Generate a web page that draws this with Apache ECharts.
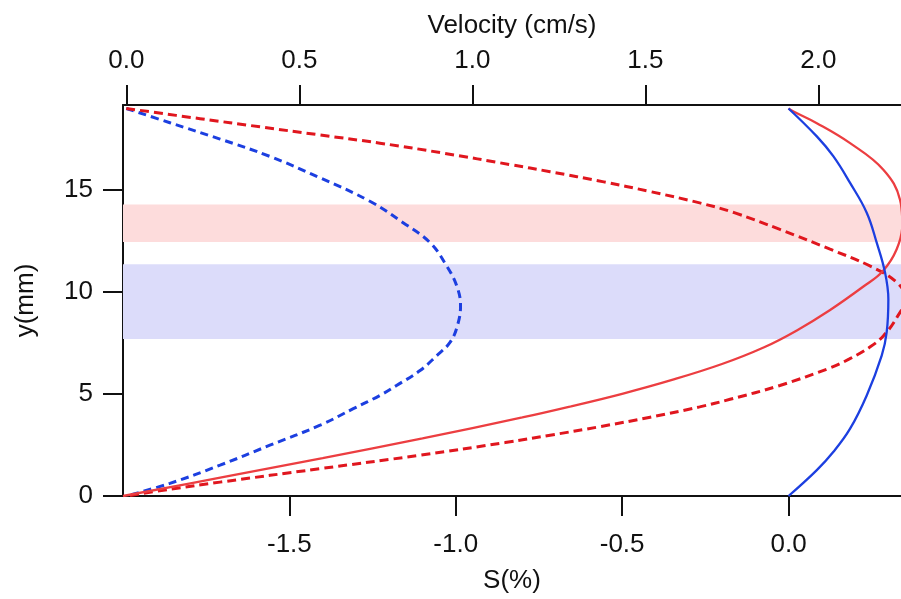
<!DOCTYPE html>
<html>
<head>
<meta charset="utf-8">
<script src="https://cdn.jsdelivr.net/npm/echarts@6/dist/echarts.min.js"></script>
<style>
  html, body { margin: 0; padding: 0; background: #fff; }
  #chart { width: 901px; height: 599px; }
</style>
</head>
<body>
<div id="chart"></div>
<script>
// Channel height positions (mm) and profile values along each curve.
const blueVelY = [19.0, 18.3, 17.5, 16.65, 15.6, 14.45, 13.4, 12.42, 11.28, 10.3, 9.33, 8.35, 7.54, 6.88, 6.15, 5.42, 4.93, 4.28, 3.47, 2.49, 1.51, 0.62, 0];
const blueVel  = [0, 0.126, 0.271, 0.415, 0.56, 0.704, 0.80, 0.878, 0.926, 0.955, 0.966, 0.957, 0.936, 0.897, 0.849, 0.781, 0.733, 0.656, 0.56, 0.415, 0.271, 0.126, 0];

const redVelY  = [19.0, 18.5, 18.1, 17.7, 17.3, 16.8, 16.25, 15.9, 15.4, 14.94, 14.37, 13.89, 13.07, 12.1, 11.28, 10.47, 9.7,
                  8.75, 7.85, 7.3, 6.72, 6.28, 5.42, 4.74, 4.37, 3.86, 3.4, 2.98, 2.62, 2.0, 1.34, 0.68, 0.33, 0];
const redVel   = [0, 0.213, 0.386, 0.56, 0.733, 0.92, 1.109, 1.225, 1.38, 1.51, 1.657, 1.757, 1.889, 2.034, 2.149, 2.227, 2.252,
                  2.227, 2.188, 2.149, 2.09, 2.034, 1.889, 1.745, 1.657, 1.514, 1.369, 1.225, 1.095, 0.849, 0.56, 0.271, 0.126, 0];

const redSY    = [0, 0.92, 1.86, 2.83, 3.85, 4.41, 5.01, 5.69, 6.47, 7.28, 8.12, 9.12, 10.27, 11.02, 12.1, 13.3, 14.53, 16.0, 17.3, 18.28, 18.85, 19.0];
const redS     = [-2.0, -1.7, -1.4, -1.1, -0.8, -0.65, -0.5, -0.35, -0.2, -0.075, 0.025, 0.125, 0.225, 0.283, 0.325, 0.342, 0.335, 0.285, 0.185, 0.085, 0.015, 0];

const blueSY   = [0, 1.27, 2.17, 3.3, 4.93, 6.88, 8.03, 9.65, 10.96, 12.42, 13.89, 15.35, 16.65, 17.63, 19.0];
const blueS    = [0, 0.085, 0.135, 0.185, 0.235, 0.28, 0.295, 0.30, 0.29, 0.265, 0.235, 0.185, 0.135, 0.085, 0];

// Shaded layers (mm)
const redBand  = [12.45, 14.29];
const blueBand = [7.70, 11.36];

// Tick labels
const sTicks = [-1.5, -1.0, -0.5, 0.0];
const vTicks = [0.0, 0.5, 1.0, 1.5, 2.0];
const yTicks = [0, 5, 10, 15];

const FONT = 'Liberation Sans, Arial, sans-serif';
const FS = 26;
const INK = '#111';
const RED = '#ec3e41';
const RED_D = '#e0161e';
const BLUE = '#1c3fe0';

function pairs(xs, ys) { return xs.map((v, i) => [v, ys[i]]); }

const axisCommon = {
  type: 'value',
  splitLine: { show: false },
  axisLine: { show: true, onZero: false, lineStyle: { color: INK, width: 2 } },
  axisTick: { show: true, length: 20, inside: false, lineStyle: { color: INK, width: 2 } },
  nameTextStyle: { fontFamily: FONT, fontSize: FS, color: INK },
};

const chart = echarts.init(document.getElementById('chart'), null, { renderer: 'canvas' });
chart.setOption({
  animation: false,
  backgroundColor: '#fff',
  grid: { left: 123, right: 0, top: 105, bottom: 101, containLabel: false },
  xAxis: [
    Object.assign({}, axisCommon, {
      position: 'bottom',
      min: -2.0, max: 0.338,
      name: 'S(%)', nameLocation: 'middle', nameGap: 72,
      axisTick: Object.assign({}, axisCommon.axisTick, { customValues: sTicks }),
      axisLabel: { customValues: sTicks, margin: 36, fontFamily: FONT, fontSize: FS, color: INK,
        formatter: v => v.toFixed(1) },
    }),
    Object.assign({}, axisCommon, {
      position: 'top',
      min: -0.0095, max: 2.239,
      name: 'Velocity (cm/s)', nameLocation: 'middle', nameGap: 66,
      axisTick: Object.assign({}, axisCommon.axisTick, { customValues: vTicks }),
      axisLabel: { customValues: vTicks, margin: 31, fontFamily: FONT, fontSize: FS, color: INK,
        formatter: v => v.toFixed(1) },
    }),
  ],
  yAxis: Object.assign({}, axisCommon, {
    min: 0, max: 19.17,
    name: 'y(mm)', nameLocation: 'middle', nameGap: 84, nameRotate: 90,
    axisTick: Object.assign({}, axisCommon.axisTick, { customValues: yTicks }),
    axisLabel: { customValues: yTicks, margin: 30, fontFamily: FONT, fontSize: FS, color: INK },
  }),
  series: [
    {
      type: 'line', xAxisIndex: 0, yAxisIndex: 0, data: [], silent: true,
      markArea: {
        silent: true,
        data: [
          [{ yAxis: redBand[0], itemStyle: { color: '#fddcdc' } }, { yAxis: redBand[1] }],
          [{ yAxis: blueBand[0], itemStyle: { color: '#dcdcfa' } }, { yAxis: blueBand[1] }],
        ],
      },
    },
    {
      name: 'velocity blue', type: 'line', xAxisIndex: 1, data: pairs(blueVel, blueVelY),
      smooth: 0.4, showSymbol: false, clip: true,
      lineStyle: { color: BLUE, width: 3, type: [8, 5] },
    },
    {
      name: 'velocity red', type: 'line', xAxisIndex: 1, data: pairs(redVel, redVelY),
      smooth: 0.4, showSymbol: false, clip: true,
      lineStyle: { color: RED_D, width: 3, type: [9, 5] },
    },
    {
      name: 'S red', type: 'line', xAxisIndex: 0, data: pairs(redS, redSY),
      smooth: 0.4, showSymbol: false, clip: true,
      lineStyle: { color: RED, width: 2.3 },
    },
    {
      name: 'S blue', type: 'line', xAxisIndex: 0, data: pairs(blueS, blueSY),
      smooth: 0.4, showSymbol: false, clip: true,
      lineStyle: { color: BLUE, width: 2.3 },
    },
  ],
});
</script>
</body>
</html>
